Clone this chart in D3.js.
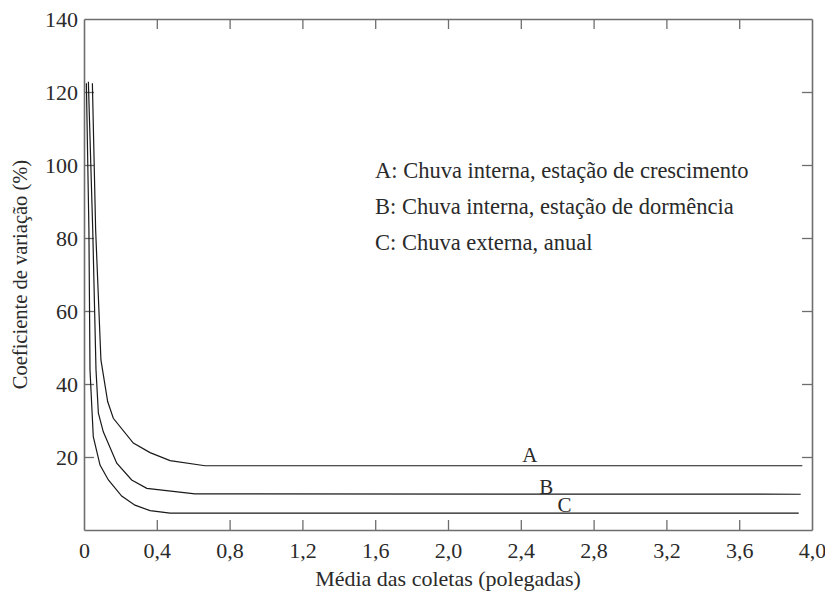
<!DOCTYPE html>
<html>
<head>
<meta charset="utf-8">
<script src="https://cdn.jsdelivr.net/npm/d3@7"></script>
<style>
  body { margin: 0; background: #fff; }
  svg text { font-family: "Liberation Serif", "Times New Roman", serif; fill: #2a2a2a; }
</style>
</head>
<body>
<div id="chart"></div>
<script>
// curve data (x = média, y = CV %)
var curveA_x = [0.046, 0.064, 0.093, 0.130, 0.161, 0.271, 0.363, 0.473, 0.665, 3.947];
var curveA_y = [122.4, 82.2, 46.6, 35.2, 30.6, 23.8, 21.2, 19.0, 17.6, 17.6];
var curveB_x = [0.024, 0.048, 0.066, 0.079, 0.106, 0.180, 0.262, 0.345, 0.610, 3.938];
var curveB_y = [122.8, 82.2, 43.8, 32.0, 26.9, 18.3, 13.7, 11.4, 9.9, 9.8];
var curveC_x = [0.013, 0.027, 0.033, 0.051, 0.088, 0.134, 0.207, 0.280, 0.363, 0.473, 3.927];
var curveC_y = [122.4, 82.2, 43.8, 25.6, 17.8, 13.7, 9.3, 6.8, 5.3, 4.6, 4.6];

var curveNames = ["A", "B", "C"];
var curveLabelX = [2.45, 2.54, 2.64];
var curveLabelY = [18.7, 9.9, 4.8];

var legendLines = [
  "A: Chuva interna, estação de crescimento",
  "B: Chuva interna, estação de dormência",
  "C: Chuva externa, anual"
];

var xTicks = [0, 0.4, 0.8, 1.2, 1.6, 2.0, 2.4, 2.8, 3.2, 3.6, 4.0];
var yTicks = [20, 40, 60, 80, 100, 120, 140];

(function() {
var width = 825, height = 592;
var mLeft = 84, mRight = 812, mTop = 19, mBottom = 530;

var svg = d3.select("#chart").append("svg")
    .attr("width", width)
    .attr("height", height);

var x = d3.scaleLinear().domain([0, 4]).range([mLeft, mRight]);
var y = d3.scaleLinear().domain([0, 140]).range([mBottom, mTop]);

var fmt = function(d) { return d === 0 ? "0" : d3.format(".1f")(d).replace(".", ","); };

// axes: ticks point inwards on all four sides
var axisColor = "#6e6e6e";

var xBottom = svg.append("g")
    .attr("transform", "translate(0," + mBottom + ")")
    .call(d3.axisBottom(x).tickValues(xTicks).tickFormat(fmt).tickSizeInner(-10).tickSizeOuter(0).tickPadding(11));
var xTop = svg.append("g")
    .attr("transform", "translate(0," + mTop + ")")
    .call(d3.axisTop(x).tickValues(xTicks).tickFormat("").tickSizeInner(-10).tickSizeOuter(0));
var yLeft = svg.append("g")
    .attr("transform", "translate(" + mLeft + ",0)")
    .call(d3.axisLeft(y).tickValues(yTicks).tickSizeInner(-10).tickSizeOuter(0).tickPadding(6));
var yRight = svg.append("g")
    .attr("transform", "translate(" + mRight + ",0)")
    .call(d3.axisRight(y).tickValues(yTicks).tickFormat("").tickSizeInner(-10).tickSizeOuter(0));

[xBottom, xTop, yLeft, yRight].forEach(function(g) {
  g.select(".domain").attr("stroke", axisColor).attr("stroke-width", 1.6);
  g.selectAll(".tick line").attr("stroke", axisColor).attr("stroke-width", 1.3);
});
xBottom.selectAll(".tick text").style("font-size", "22px").attr("fill", "#2a2a2a").attr("dy", "0.75em");
yLeft.selectAll(".tick text").style("font-size", "22px").attr("fill", "#2a2a2a").attr("dy", "0.34em");

// corner ticks are not drawn in the figure
xBottom.selectAll(".tick").filter(function(d) { return d === 0 || d === 4; }).select("line").remove();
xTop.selectAll(".tick").filter(function(d) { return d === 0 || d === 4; }).remove();
yLeft.selectAll(".tick").filter(function(d) { return d === 140; }).select("line").remove();
yRight.selectAll(".tick").filter(function(d) { return d === 140; }).remove();

// curves
var line = d3.line()
    .x(function(d) { return x(d[0]); })
    .y(function(d) { return y(d[1]); });

var curves = [
  d3.zip(curveA_x, curveA_y),
  d3.zip(curveB_x, curveB_y),
  d3.zip(curveC_x, curveC_y)
];

svg.selectAll(".curve")
    .data(curves)
    .enter().append("path")
    .attr("class", "curve")
    .attr("d", line)
    .attr("fill", "none")
    .attr("stroke", "#1a1a1a")
    .attr("stroke-width", 1.2);

svg.selectAll(".clabel")
    .data(curveNames)
    .enter().append("text")
    .attr("class", "clabel")
    .attr("x", function(d, i) { return x(curveLabelX[i]); })
    .attr("y", function(d, i) { return y(curveLabelY[i]); })
    .attr("text-anchor", "middle")
    .style("font-size", "21px")
    .text(function(d) { return d; });

// legend text block
svg.selectAll(".legend")
    .data(legendLines)
    .enter().append("text")
    .attr("class", "legend")
    .attr("x", 375)
    .attr("y", function(d, i) { return 178 + i * 36; })
    .style("font-size", "22.5px")
    .text(function(d) { return d; });

// axis titles
svg.append("text")
    .attr("x", (mLeft + mRight) / 2)
    .attr("y", 586)
    .attr("text-anchor", "middle")
    .style("font-size", "22px")
    .text("Média das coletas (polegadas)");

svg.append("text")
    .attr("transform", "translate(27," + ((mTop + mBottom) / 2) + ") rotate(-90)")
    .attr("text-anchor", "middle")
    .style("font-size", "20.5px")
    .text("Coeficiente de variação (%)");
})();
</script>
</body>
</html>
